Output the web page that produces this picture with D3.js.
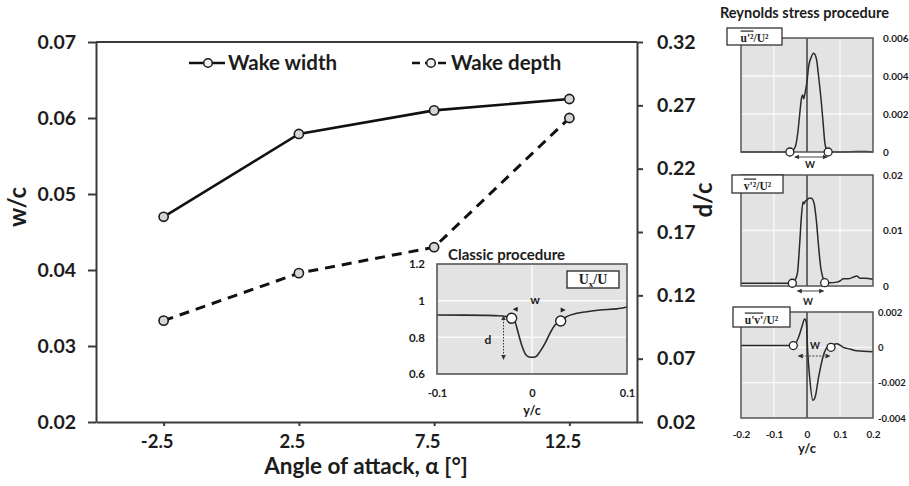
<!DOCTYPE html>
<html><head><meta charset="utf-8">
<script src="https://cdn.jsdelivr.net/npm/d3@7"></script>
<style>
html,body{margin:0;padding:0;background:#fff;}
svg{display:block;font-family:Lato,"Open Sans",sans-serif;}
</style></head>
<body><svg id="chart" width="909" height="486"></svg>
<script>
// ---- Main chart: wake width / wake depth vs angle of attack ----
const angles = [-2.5, 2.5, 7.5, 12.5];
const wakeWidth = [0.047, 0.0579, 0.061, 0.0625];
const wakeDepth = [0.10, 0.1375, 0.158, 0.26];
const widthTicks = [0.02, 0.03, 0.04, 0.05, 0.06, 0.07];
const depthTicks = [0.02, 0.07, 0.12, 0.17, 0.22, 0.27, 0.32];
const angleTicks = [-2.5, 2.5, 7.5, 12.5];
const seriesNames = ["Wake width", "Wake depth"];

// ---- Classic procedure inset: streamwise velocity profile ----
const classicYc = [-0.1, -0.07, -0.05, -0.035, -0.028, -0.0214, -0.0179, -0.0144, -0.0109, -0.0074, -0.0039, 0.0014, 0.0049, 0.0084, 0.0137, 0.0189, 0.0242, 0.0302, 0.0365, 0.047, 0.0576, 0.0716, 0.0892, 0.1];
const classicU  = [0.922, 0.921, 0.92, 0.918, 0.914, 0.904, 0.885, 0.822, 0.758, 0.713, 0.694, 0.691, 0.698, 0.722, 0.767, 0.822, 0.867, 0.889, 0.913, 0.931, 0.94, 0.949, 0.955, 0.965];
const classicEdgeYc = [-0.0214, 0.0302];
const classicEdgeU = [0.904, 0.889];
const classicUTicks = [0.6, 0.8, 1, 1.2];
const classicYcTicks = [-0.1, 0, 0.1];

// ---- Reynolds stress procedure panels ----
const panelYcTicks = [-0.2, -0.1, 0, 0.1, 0.2];

const uuYc  = [-0.2, -0.1, -0.056, -0.045, -0.035, -0.028, -0.022, -0.017, -0.013, -0.01, -0.006, 0.0, 0.005, 0.013, 0.0205, 0.0285, 0.035, 0.043, 0.049, 0.054, 0.061, 0.065, 0.1, 0.15, 0.18, 0.2];
const uuVal = [0, 0, 0, 0.00005, 0.0003, 0.001, 0.002, 0.0028, 0.003, 0.0028, 0.0031, 0.0037, 0.0045, 0.005, 0.0052, 0.0049, 0.004, 0.0027, 0.0015, 0.0005, 0.00005, 0, 0, 0.00002, 0.00003, 0];
const uuEdgeYc = [-0.052, 0.064];
const uuEdgeVal = [0, 0];
const uuTicks = [0, 0.002, 0.004, 0.006];

const vvYc  = [-0.2, -0.1, -0.05, -0.044, -0.036, -0.029, -0.022, -0.017, -0.012, -0.009, -0.006, 0.0, 0.006, 0.013, 0.021, 0.028, 0.035, 0.041, 0.048, 0.054, 0.07, 0.09, 0.1, 0.11, 0.125, 0.14, 0.151, 0.16, 0.175, 0.2];
const vvVal = [0.0005, 0.0005, 0.0005, 0.0006, 0.0011, 0.0023, 0.0078, 0.0125, 0.0152, 0.0148, 0.0152, 0.0155, 0.0158, 0.0158, 0.015, 0.012, 0.0072, 0.0036, 0.0015, 0.0006, 0.0006, 0.0007, 0.0009, 0.0013, 0.0013, 0.0016, 0.0018, 0.0014, 0.0014, 0.0012];
const vvEdgeYc = [-0.0445, 0.0536];
const vvEdgeVal = [0.0005, 0.0006];
const vvTicks = [0, 0.01, 0.02];

const uvYc  = [-0.2, -0.1, -0.05, -0.04, -0.025, -0.015, -0.007, -0.002, 0.002, 0.008, 0.018, 0.025, 0.035, 0.049, 0.061, 0.073, 0.091, 0.11, 0.13, 0.151, 0.2];
const uvVal = [0.0001, 0.0001, 0.0001, 0.0001, 0.0006, 0.0012, 0.0016, 0.0014, -0.0002, -0.0017, -0.003, -0.0028, -0.0017, -0.0005, 0, 0.0001, 0.0002, 0.0, -0.0001, -0.0002, -0.00025];
const uvEdgeYc = [-0.0415, 0.0727];
const uvEdgeVal = [0.0001, 0.0];
const uvTicks = [-0.004, -0.002, 0, 0.002];

const ink = "#1c1c1c";
const svg = d3.select("#chart");

// arrowhead marker shared by the annotation arrows
const defs = svg.append("defs");
defs.append("marker").attr("id", "head")
  .attr("viewBox", "0 0 10 10").attr("refX", 9).attr("refY", 5)
  .attr("markerWidth", 5).attr("markerHeight", 5).attr("orient", "auto-start-reverse")
  .append("path").attr("d", "M0,0L10,5L0,10Z").attr("fill", "#333");

// ================= main chart =================
const x = d3.scaleLinear([-5, 15], [96, 637]);
const yW = d3.scaleLinear([0.02, 0.07], [422, 42]);
const yD = d3.scaleLinear([0.02, 0.32], [422, 42]);

const main = svg.append("g");

function styleAxis(g, size) {
  g.select(".domain").attr("stroke", "#3a3a3a").attr("stroke-width", 2);
  g.selectAll(".tick line").attr("stroke", "#3a3a3a").attr("stroke-width", 2);
  g.selectAll(".tick text").attr("fill", ink).attr("font-size", size).attr("font-weight", 700)
    .attr("font-family", "Lato, sans-serif");
}

main.append("g").attr("transform", "translate(96,0)")
  .call(d3.axisLeft(yW).tickValues(widthTicks).tickFormat(d3.format(".2f")).tickSize(8).tickPadding(12).tickSizeOuter(0))
  .call(g => styleAxis(g, 19.5));

main.append("g").attr("transform", "translate(637,0)")
  .call(d3.axisRight(yD).tickValues(depthTicks).tickFormat(d3.format(".2f")).tickSize(6).tickPadding(14).tickSizeOuter(0))
  .call(g => styleAxis(g, 19.5));

main.append("g").attr("transform", "translate(0,422)")
  .call(d3.axisBottom(x).tickValues(angleTicks).tickFormat(d => String(d)).tickSize(4).tickPadding(9).tickSizeOuter(0))
  .call(g => styleAxis(g, 18.5))
  .call(g => g.selectAll(".tick text").attr("dx", -7));

// top frame edge
main.append("line").attr("x1", x(-5)).attr("x2", x(15)).attr("y1", yW(0.07)).attr("y2", yW(0.07))
  .attr("stroke", "#3a3a3a").attr("stroke-width", 2);

// axis titles
main.append("text").attr("transform", "translate(26,207) rotate(-90)")
  .attr("text-anchor", "middle").attr("font-size", 24).attr("font-weight", 700).attr("fill", ink).text("w/c");
main.append("text").attr("transform", "translate(712,200) rotate(-90)")
  .attr("text-anchor", "middle").attr("font-size", 24).attr("font-weight", 700).attr("fill", ink).text("d/c");
main.append("text").attr("x", 366).attr("y", 474)
  .attr("text-anchor", "middle").attr("font-size", 22.5).attr("font-weight", 700).attr("fill", ink)
  .text("Angle of attack, \u03b1 [\u00b0]");

// series
const widthPts = angles.map((a, i) => [x(a), yW(wakeWidth[i])]);
const depthPts = angles.map((a, i) => [x(a), yD(wakeDepth[i])]);
const line = d3.line();

main.append("path").attr("d", line(widthPts)).attr("fill", "none")
  .attr("stroke", "#111").attr("stroke-width", 2.6);
main.append("path").attr("d", line(depthPts)).attr("fill", "none")
  .attr("stroke", "#111").attr("stroke-width", 3).attr("stroke-dasharray", "10,7");

[widthPts, depthPts].forEach(pts => {
  main.append("g").selectAll("circle").data(pts).join("circle")
    .attr("cx", d => d[0]).attr("cy", d => d[1]).attr("r", 4.6)
    .attr("fill", "#d6d6d6").attr("stroke", "#1a1a1a").attr("stroke-width", 1.6);
});

// legend
const legend = main.append("g").attr("font-size", 20.5).attr("font-weight", 700).attr("fill", ink);
[[189, null], [412, "8,5"]].forEach(([lx, dash], i) => {
  const l = legend.append("line").attr("x1", lx).attr("x2", lx + 36).attr("y1", 63).attr("y2", 63)
    .attr("stroke", "#111").attr("stroke-width", 2.6);
  if (dash) l.attr("stroke-dasharray", dash);
  legend.append("circle").attr("cx", lx + 19).attr("cy", 63).attr("r", 4.3)
    .attr("fill", "#f0f0f0").attr("stroke", "#1a1a1a").attr("stroke-width", 1.5);
  legend.append("text").attr("x", lx + 39).attr("y", 70).text(seriesNames[i]);
});

// ================= classic procedure inset =================
const cx = d3.scaleLinear([-0.1, 0.1], [437, 627]);
const cy = d3.scaleLinear([0.6, 1.2], [374, 264]);
const inset = svg.append("g");

inset.append("text").attr("x", 448).attr("y", 260).attr("font-size", 15).attr("font-weight", 700)
  .attr("fill", ink).text("Classic procedure");
inset.append("rect").attr("x", 437).attr("y", 264).attr("width", 190).attr("height", 110).attr("fill", "#e3e3e3");
inset.append("g").selectAll("line").data([0.8, 1]).join("line")
  .attr("x1", 437).attr("x2", 627).attr("y1", d => cy(d)).attr("y2", d => cy(d))
  .attr("stroke", "#fafafa").attr("stroke-width", 1.5);
inset.append("line").attr("x1", cx(0)).attr("x2", cx(0)).attr("y1", 264).attr("y2", 374)
  .attr("stroke", "#fafafa").attr("stroke-width", 1.5);

inset.append("path")
  .attr("d", d3.line().x((d, i) => cx(classicYc[i])).y(d => cy(d)).curve(d3.curveMonotoneX)(classicU))
  .attr("fill", "none").attr("stroke", "#2a2a2a").attr("stroke-width", 1.6);
inset.append("rect").attr("x", 437).attr("y", 264).attr("width", 190).attr("height", 110)
  .attr("fill", "none").attr("stroke", "#555").attr("stroke-width", 1.6);

// depth arrow
const dX = cx(-0.03);
inset.append("line").attr("x1", dX).attr("x2", dX)
  .attr("y1", cy(classicU[0]) + 1).attr("y2", cy(d3.min(classicU)) + 2)
  .attr("stroke", "#333").attr("stroke-width", 1).attr("stroke-dasharray", "1.5,1.5")
  .attr("marker-start", "url(#head)").attr("marker-end", "url(#head)");
inset.append("text").attr("x", 488).attr("y", 344).attr("text-anchor", "middle")
  .attr("font-size", 12).attr("font-weight", 700).attr("fill", ink).text("d");
inset.append("text").attr("x", 535).attr("y", 304).attr("text-anchor", "middle")
  .attr("font-size", 12).attr("font-weight", 700).attr("fill", ink).text("w");
// width pointers above the wake edges
inset.append("path").attr("d", `M${cx(classicEdgeYc[0]) + 1},${cy(classicEdgeU[0]) - 9}l5,-2.5v5z`).attr("fill", "#222");
inset.append("path").attr("d", `M${cx(classicEdgeYc[1]) + 5},${cy(classicEdgeU[1]) - 11}l-5,-2.5v5z`).attr("fill", "#222");

inset.append("g").selectAll("circle").data(classicEdgeYc).join("circle")
  .attr("cx", d => cx(d)).attr("cy", (d, i) => cy(classicEdgeU[i])).attr("r", 5)
  .attr("fill", "#fff").attr("stroke", "#222").attr("stroke-width", 1.4);

// legend box
inset.append("rect").attr("x", 567).attr("y", 271).attr("width", 52).attr("height", 17)
  .attr("fill", "#fff").attr("stroke", "#333").attr("stroke-width", 1.4);
const ux = inset.append("text").attr("x", 593).attr("y", 284).attr("text-anchor", "middle")
  .attr("font-family", "Liberation Serif, serif").attr("font-weight", 700).attr("font-size", 14).attr("fill", ink);
ux.append("tspan").text("U");
ux.append("tspan").attr("font-size", 9).attr("dy", 3).text("x");
ux.append("tspan").attr("dy", -3).text("/U");

inset.append("g").attr("transform", "translate(437,0)")
  .call(d3.axisLeft(cy).tickValues(classicUTicks).tickFormat(d => String(d)).tickSize(0).tickPadding(12))
  .call(g => g.select(".domain").remove())
  .call(g => g.selectAll("text").attr("font-size", 11.5).attr("font-weight", 700).attr("fill", ink).attr("font-family", "Lato, sans-serif"));
inset.append("g").attr("transform", "translate(0,374)")
  .call(d3.axisBottom(cx).tickValues(classicYcTicks).tickFormat(d => String(d)).tickSize(0).tickPadding(15))
  .call(g => g.select(".domain").remove())
  .call(g => g.selectAll("text").attr("font-size", 11).attr("font-weight", 700).attr("fill", ink).attr("font-family", "Lato, sans-serif"));
inset.append("text").attr("x", cx(0)).attr("y", 415).attr("text-anchor", "middle")
  .attr("font-size", 12.5).attr("font-weight", 700).attr("fill", ink).text("y/c");

// ================= Reynolds stress panels =================
svg.append("text").attr("x", 720).attr("y", 18).attr("font-size", 14.5).attr("font-weight", 700)
  .attr("fill", ink).text("Reynolds stress procedure");

const px = d3.scaleLinear([-0.2, 0.2], [741, 873]);

function stressPanel(cfg) {
  const g = svg.append("g");
  const y = d3.scaleLinear(cfg.domain, [cfg.bottom, cfg.top]);
  g.append("rect").attr("x", 741).attr("y", cfg.top).attr("width", 132).attr("height", cfg.bottom - cfg.top).attr("fill", "#e3e3e3");
  g.append("g").selectAll("line").data(cfg.grid).join("line")
    .attr("x1", 741).attr("x2", 873).attr("y1", d => y(d)).attr("y2", d => y(d))
    .attr("stroke", "#fafafa").attr("stroke-width", 1.3);
  g.append("g").selectAll("line").data([-0.1, 0.1]).join("line")
    .attr("x1", d => px(d)).attr("x2", d => px(d)).attr("y1", cfg.top).attr("y2", cfg.bottom)
    .attr("stroke", "#fafafa").attr("stroke-width", 1.3);
  g.append("line").attr("x1", px(0)).attr("x2", px(0)).attr("y1", cfg.top).attr("y2", cfg.bottom)
    .attr("stroke", "#333").attr("stroke-width", 1.4);
  g.append("path")
    .attr("d", d3.line().x((d, i) => px(cfg.yc[i])).y(d => y(d)).curve(d3.curveMonotoneX)(cfg.val))
    .attr("fill", "none").attr("stroke", "#2a2a2a").attr("stroke-width", 1.5);
  g.append("rect").attr("x", 741).attr("y", cfg.top).attr("width", 132).attr("height", cfg.bottom - cfg.top)
    .attr("fill", "none").attr("stroke", "#555").attr("stroke-width", 1.5);

  // wake-width arrow and label
  const a0 = px(cfg.edgeYc[0]) + 5, a1 = px(cfg.edgeYc[1]) - 1;
  g.append("line").attr("x1", a0).attr("x2", a1).attr("y1", cfg.arrowY).attr("y2", cfg.arrowY)
    .attr("stroke", "#444").attr("stroke-width", 1).attr("stroke-dasharray", cfg.dashed ? "2,1.5" : null)
    .attr("marker-start", "url(#head)").attr("marker-end", "url(#head)");
  g.append("text").attr("x", cfg.wX).attr("y", cfg.wY).attr("text-anchor", "middle")
    .attr("font-size", 9.5).attr("font-weight", 700).attr("fill", ink).text("W");

  g.append("g").selectAll("circle").data(cfg.edgeYc).join("circle")
    .attr("cx", d => px(d)).attr("cy", (d, i) => y(cfg.edgeVal[i])).attr("r", 4)
    .attr("fill", "#fff").attr("stroke", "#222").attr("stroke-width", 1.3);

  g.append("g").attr("transform", "translate(873,0)")
    .call(d3.axisRight(y).tickValues(cfg.ticks).tickFormat(d => String(d)).tickSize(0).tickPadding(cfg.pad))
    .call(a => a.select(".domain").remove())
    .call(a => a.selectAll("text").attr("font-size", cfg.fs).attr("font-weight", 700).attr("fill", ink).attr("font-family", "Lato, sans-serif"));

  // quantity label
  const b = cfg.box;
  g.append("rect").attr("x", b[0]).attr("y", b[1]).attr("width", b[2]).attr("height", b[3])
    .attr("fill", "#fff").attr("stroke", "#333").attr("stroke-width", 1.3);
  const t = g.append("text").attr("x", b[0] + b[2] / 2).attr("y", b[1] + b[3] - 3.5).attr("text-anchor", "middle")
    .attr("font-family", "Liberation Serif, serif").attr("font-weight", 700).attr("font-size", 11.5).attr("fill", ink);
  t.append("tspan").style("text-decoration", "overline").text(cfg.num);
  t.append("tspan").text("/U\u00b2");
  return { g, y };
}

stressPanel({ yc: uuYc, val: uuVal, edgeYc: uuEdgeYc, edgeVal: uuEdgeVal, ticks: uuTicks,
  domain: [0, 0.006], top: 38, bottom: 152, grid: [0.002, 0.004], pad: 10, fs: 10,
  box: [727, 28, 55, 17], num: "u'\u00b2", arrowY: 157, wX: 810, wY: 168, dashed: false });

stressPanel({ yc: vvYc, val: vvVal, edgeYc: vvEdgeYc, edgeVal: vvEdgeVal, ticks: vvTicks,
  domain: [0, 0.02], top: 175, bottom: 286, grid: [0.01], pad: 10, fs: 10,
  box: [732, 175, 51, 18], num: "v'\u00b2", arrowY: 291, wX: 808, wY: 305, dashed: false });

const p3 = stressPanel({ yc: uvYc, val: uvVal, edgeYc: uvEdgeYc, edgeVal: uvEdgeVal, ticks: uvTicks,
  domain: [-0.004, 0.002], top: 312, bottom: 418, grid: [-0.002, 0], pad: 5, fs: 9.5,
  box: [733, 307, 57, 20], num: "u'v'", arrowY: 356, wX: 815, wY: 349, dashed: true });

p3.g.append("g").attr("transform", "translate(0,418)")
  .call(d3.axisBottom(px).tickValues(panelYcTicks).tickFormat(d => String(d)).tickSize(0).tickPadding(13))
  .call(a => a.select(".domain").remove())
  .call(a => a.selectAll("text").attr("font-size", 10).attr("font-weight", 700).attr("fill", ink).attr("font-family", "Lato, sans-serif"));
svg.append("text").attr("x", px(0)).attr("y", 453).attr("text-anchor", "middle")
  .attr("font-size", 13).attr("font-weight", 700).attr("fill", ink).text("y/c");
</script>
</body></html>
